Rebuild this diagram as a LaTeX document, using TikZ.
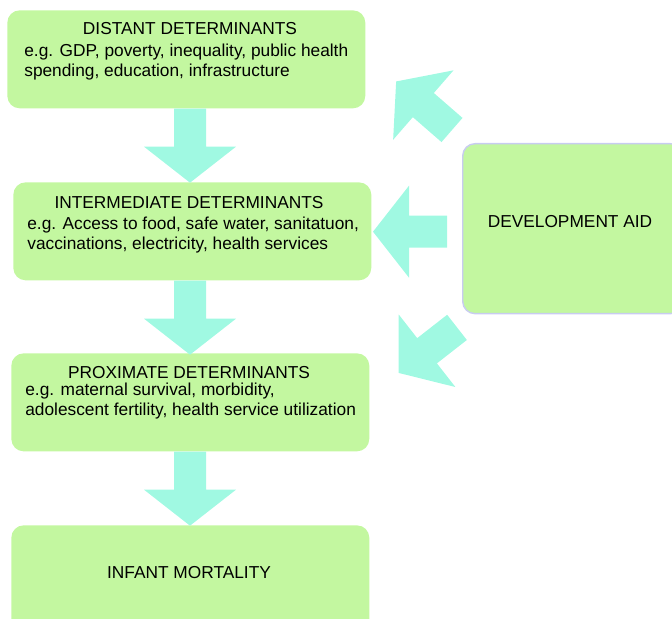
\documentclass[tikz,border=0pt]{standalone}
\usepackage{fontspec}
\setmainfont{Liberation Sans}
\usetikzlibrary{calc}
\definecolor{boxgreen}{RGB}{195,247,160}
\definecolor{aidcyan}{RGB}{160,249,226}
\definecolor{aidedge}{RGB}{200,204,240}
\def\blockarrow(#1)(#2){\fill[aidcyan, shift={(#1)}, rotate=#2] (0,-16) -- (38,-16) -- (38,-46) -- (74,0) -- (38,46) -- (38,16) -- (0,16) -- cycle;}

\begin{document}
\begin{tikzpicture}[x=0.02cm, y=0.02cm,
		box/.style={fill=boxgreen, rounded corners=7pt, inner sep=0pt, anchor=north west, minimum width=7.16cm, minimum height=1.96cm},
		head/.style={font=\fontsize{9.85}{11.1}\selectfont, inner sep=0pt},
		body/.style={font=\fontsize{9.85}{11.1}\selectfont, inner sep=0pt, align=left, anchor=west}]
				\useasboundingbox (0,0) rectangle (672,-618);
				
				\coordinate (axis) at (190,0);
				
				\node[box] (dist) at (7,-10) {};
				\node[box] (inter) at (13,-182) {};
				\node[box] (prox) at (11,-353) {};
				\node[box, minimum height=2.4cm] (infant) at (11,-525) {};
				\node[box, draw=aidedge, line width=0.8pt, rounded corners=7pt, minimum width=4.4cm, minimum height=3.4cm] (aid) at (462,-143) {};
				
				\node[head] (distH) at (190,-29) {DISTANT DETERMINANTS};
				\node[body] (distB) at (24,-62) {e.g. GDP, poverty, inequality, public health\\spending, education, infrastructure};
				
				\node[head] (interH) at (189,-203) {INTERMEDIATE DETERMINANTS};
				\node[body] (interB) at (27,-235) {e.g. Access to food, safe water, sanitatuon,\\vaccinations, electricity, health services};
				
				\node[head] (proxH) at (189,-373) {PROXIMATE DETERMINANTS};
				\node[body] (proxB) at (25,-401) {e.g. maternal survival, morbidity,\\adolescent fertility, health service utilization};
				
				\node[head] (infantH) at (189,-573) {INFANT MORTALITY};
				\node[head] (aidH) at (570,-222) {DEVELOPMENT AID};
				
				\blockarrow(axis |- dist.south)(-90)
				\blockarrow(axis |- inter.south)(-90)
				\blockarrow(axis |- prox.south)(-90)
				
				\blockarrow($(aid.north west)+(-10,13)$)(139)
				\blockarrow($(aid.west)+(-15,-3)$)(180)
				\blockarrow($(aid.south west)+(-5,-13)$)(218)
			\end{tikzpicture}
\end{document}
